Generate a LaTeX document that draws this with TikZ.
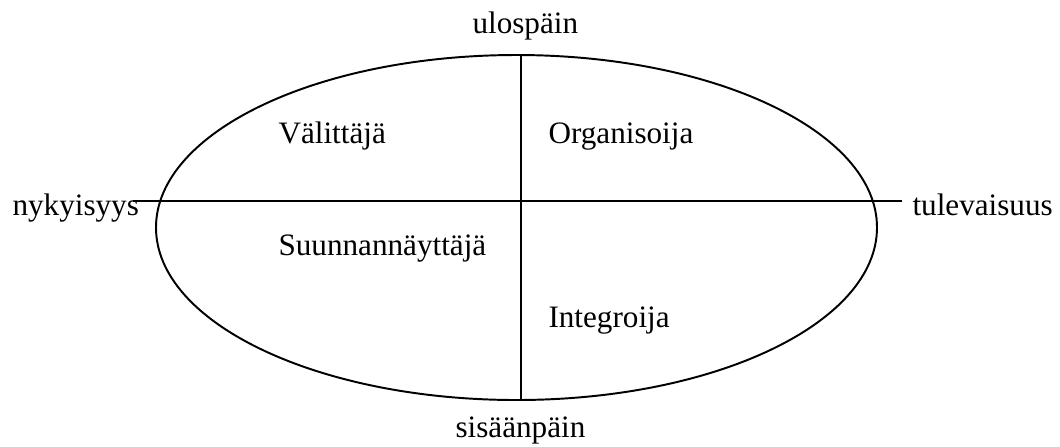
\documentclass[tikz,border=0pt]{standalone}
\usepackage{fontspec}
\setmainfont{Liberation Serif}
\begin{document}
\begin{tikzpicture}[x=0.385pt,y=-0.385pt,
    label/.style={font=\fontsize{12}{14}\selectfont, inner sep=0pt, anchor=base west},
    axis/.style={line width=0.75pt}]
            \useasboundingbox (0,0) rectangle (1060,446);
            % ellipse
            \draw[axis] (516.5,227.5) ellipse (360.5 and 172.5);
            % axes
            \coordinate (left) at (133,201);
            \coordinate (right) at (902,201);
            \coordinate (top) at (521,55);
            \coordinate (bottom) at (521,400);
            \draw[axis] (left) -- (right);
            \draw[axis] (top) -- (bottom);
            % axis labels
            \node[label] (ulos) at (472,33) {ulospäin};
            \node[label] (sisaan) at (455,437) {sisäänpäin};
            \node[label] (nyky) at (12,215) {nykyisyys};
            \node[label] (tulev) at (912,215) {tulevaisuus};
            % quadrants
            \node[label] (valittaja) at (278,143) {Välittäjä};
            \node[label] (organisoija) at (548,143) {Organisoija};
            \node[label] (suunnan) at (278,255) {Suunnannäyttäjä};
            \node[label] (integroija) at (548,327) {Integroija};
\end{tikzpicture}
\end{document}
